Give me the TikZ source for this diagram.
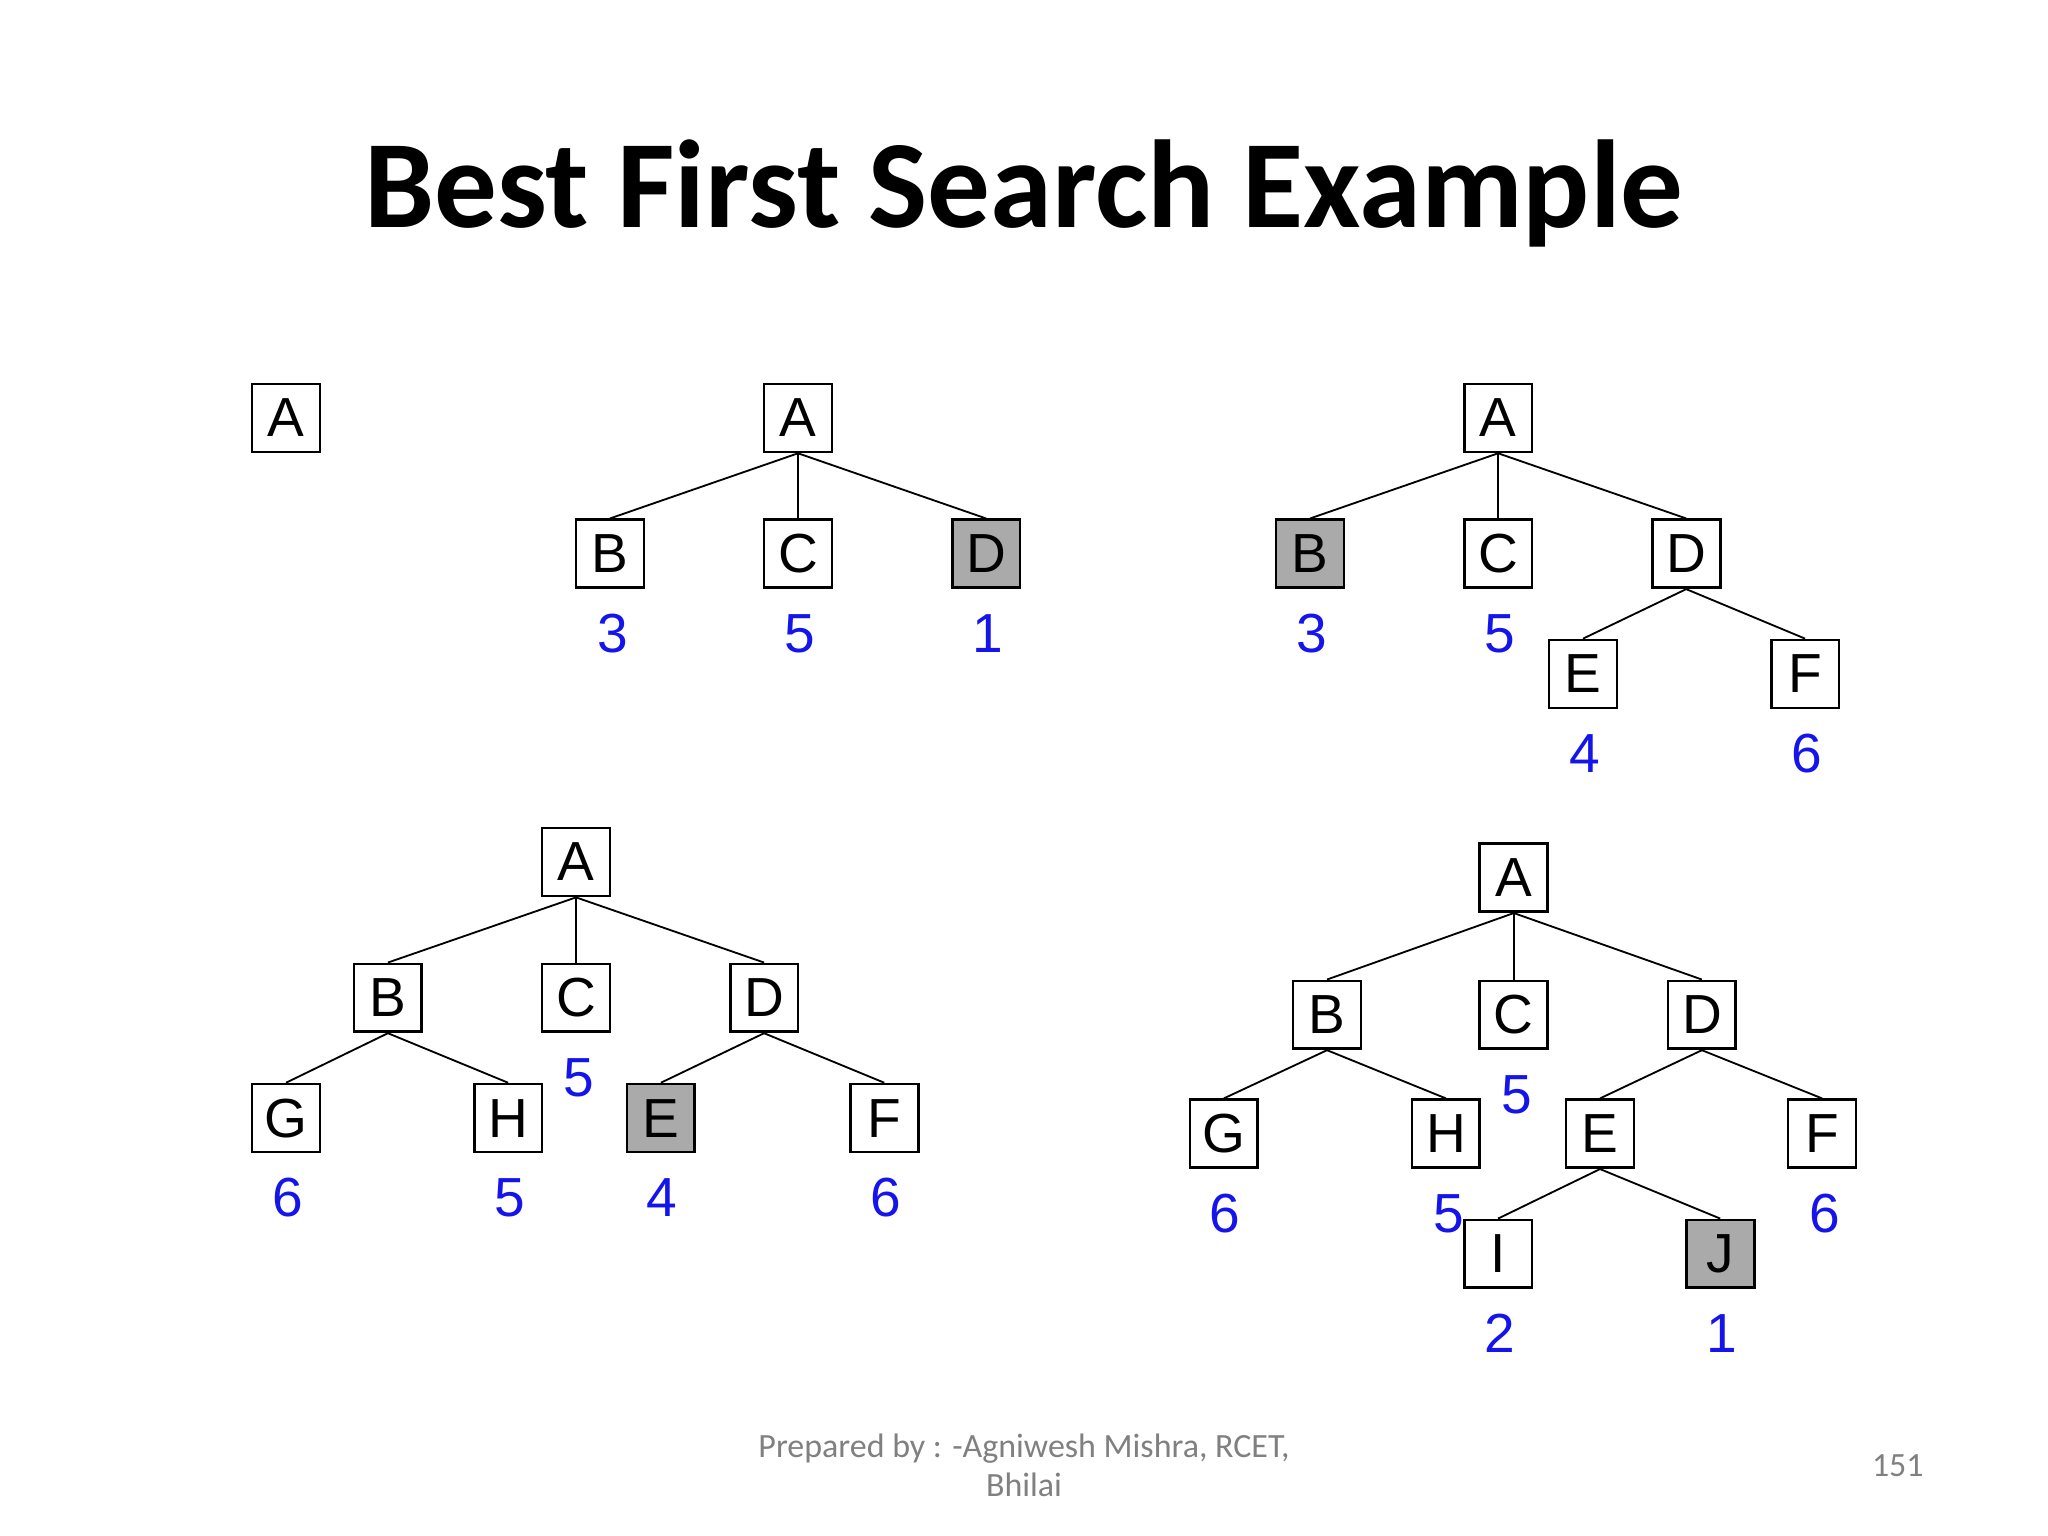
\documentclass[tikz,border=0pt]{standalone}
\usepackage{fontspec}
\setmainfont{Liberation Sans}
\newfontfamily\calfont{Carlito}
\definecolor{lblue}{RGB}{20,20,235}
\definecolor{boxgray}{RGB}{170,170,170}
\begin{document}
\begin{tikzpicture}[x=0.02cm,y=-0.02cm,
  bx/.style={draw,line width=1.2pt,minimum size=1.04cm,inner sep=0pt,font=\fontsize{24}{26}\selectfont,fill=white},
  gbx/.style={bx,fill=boxgray},
  lb/.style={text=lblue,font=\fontsize{24}{26}\selectfont,inner sep=0pt},
  ed/.style={draw,line width=0.8pt}]
\useasboundingbox (0,0) rectangle (1568,1176);
\node[font=\calfont\bfseries\fontsize{54.5}{58}\selectfont] (title) at (784,148) {Best First Search Example};
% tree 1
\node[bx] (a1) at (219,320) {A};
% tree 2
\node[bx] (a2) at (611,320) {A};
\node[bx] (b2) at (467,424) {B};
\node[bx] (c2) at (611,424) {C};
\node[gbx] (d2) at (755,424) {D};
\foreach \c in {b2,c2,d2} \draw[ed] (a2.south) -- (\c.north);
\node[lb] (lb2) at (469,485) {3};
\node[lb] (lc2) at (612,485) {5};
\node[lb] (ld2) at (756,485) {1};
% tree 3
\node[bx] (a3) at (1147,320) {A};
\node[gbx] (b3) at (1003,424) {B};
\node[bx] (c3) at (1147,424) {C};
\node[bx] (d3) at (1291,424) {D};
\node[bx] (e3) at (1212,516) {E};
\node[bx] (f3) at (1382,516) {F};
\foreach \c in {b3,c3,d3} \draw[ed] (a3.south) -- (\c.north);
\foreach \c in {e3,f3} \draw[ed] (d3.south) -- (\c.north);
\node[lb] (lb3) at (1004,485) {3};
\node[lb] (lc3) at (1148,485) {5};
\node[lb] (le3) at (1213,577) {4};
\node[lb] (lf3) at (1383,577) {6};
% tree 4
\node[bx] (a4) at (441,660) {A};
\node[bx] (b4) at (297,764) {B};
\node[bx] (c4) at (441,764) {C};
\node[bx] (d4) at (585,764) {D};
\node[bx] (g4) at (219,856) {G};
\node[bx] (h4) at (389,856) {H};
\node[gbx] (e4) at (506,856) {E};
\node[bx] (f4) at (677,856) {F};
\foreach \c in {b4,c4,d4} \draw[ed] (a4.south) -- (\c.north);
\foreach \c in {g4,h4} \draw[ed] (b4.south) -- (\c.north);
\foreach \c in {e4,f4} \draw[ed] (d4.south) -- (\c.north);
\node[lb] (lc4) at (443,825) {5};
\node[lb] (lg4) at (220,917) {6};
\node[lb] (lh4) at (390,917) {5};
\node[lb] (le4) at (507,917) {4};
\node[lb] (lf4) at (678,917) {6};
% tree 5
\node[bx] (a5) at (1159,672) {A};
\node[bx] (b5) at (1016,777) {B};
\node[bx] (c5) at (1159,777) {C};
\node[bx] (d5) at (1303,777) {D};
\node[bx] (g5) at (937,868) {G};
\node[bx] (h5) at (1107,868) {H};
\node[bx] (e5) at (1225,868) {E};
\node[bx] (f5) at (1395,868) {F};
\node[lb] (lh5) at (1109,929) {5};
\node[bx] (i5) at (1147,960) {I};
\node[gbx] (j5) at (1317,960) {J};
\foreach \c in {b5,c5,d5} \draw[ed] (a5.south) -- (\c.north);
\foreach \c in {g5,h5} \draw[ed] (b5.south) -- (\c.north);
\foreach \c in {e5,f5} \draw[ed] (d5.south) -- (\c.north);
\foreach \c in {i5,j5} \draw[ed] (e5.south) -- (\c.north);
\node[lb] (lc5) at (1161,838) {5};
\node[lb] (lg5) at (938,929) {6};
\node[lb] (lf5) at (1397,929) {6};
\node[lb] (li5) at (1148,1021) {2};
\node[lb] (lj5) at (1318,1021) {1};
% footer
\node[font=\calfont\fontsize{14.8}{17}\selectfont,text=gray,align=center] (foot) at (784,1122) {Prepared by : -Agniwesh Mishra, RCET,\\Bhilai};
\node[font=\calfont\fontsize{14.8}{17}\selectfont,text=gray] (pg) at (1453,1122) {151};
\end{tikzpicture}
\end{document}
